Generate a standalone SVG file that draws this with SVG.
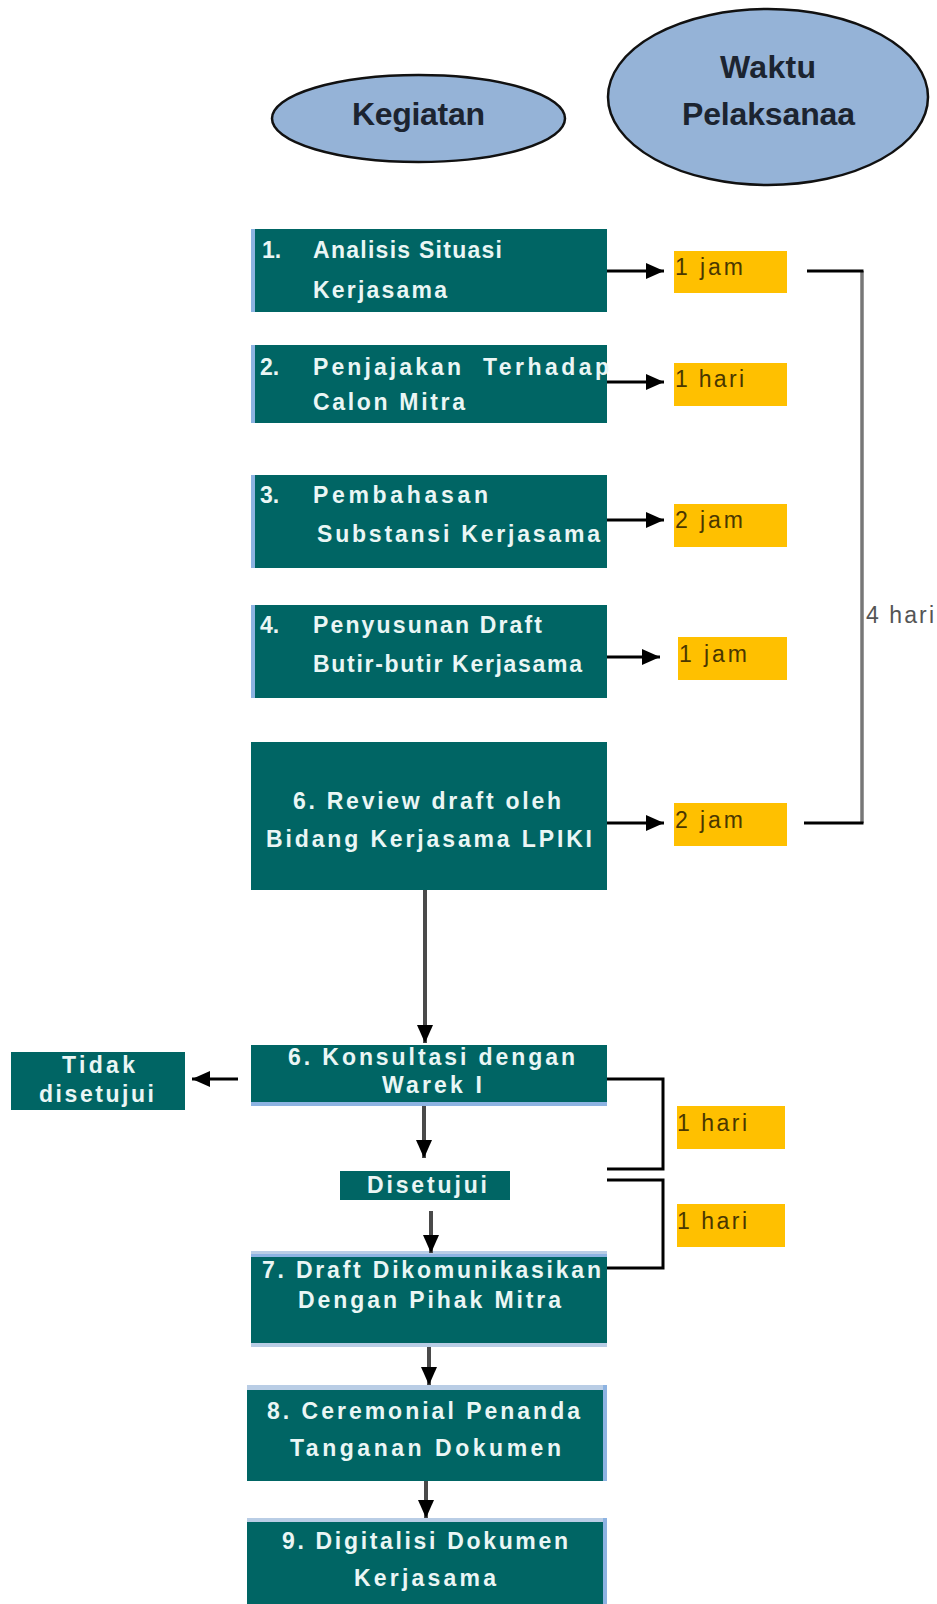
<svg xmlns="http://www.w3.org/2000/svg" width="937" height="1604" viewBox="0 0 937 1604">
  <defs>
    <marker id="ah" viewBox="0 0 18 16" refX="18" refY="8" markerWidth="18" markerHeight="16" markerUnits="userSpaceOnUse" orient="auto">
      <path d="M0,0 L18,8 L0,16 Z" fill="#000"/>
    </marker>
    <style>
      .box { fill: #006564; }
      .edge { fill: #8db3e2; }
      .edge2 { fill: #b9cde5; }
      .bt { font-family: "Liberation Sans", Arial, sans-serif; font-weight: bold; font-size: 23px; fill: #eaf6f5; }
      .et { font-family: "Liberation Sans", Arial, sans-serif; font-weight: bold; font-size: 32px; fill: #1c2430; }
      .ell { fill: #95b3d7; stroke: #111; stroke-width: 2.5; }
      .ybox { fill: #ffc000; }
      .yt { font-family: "Liberation Sans", Arial, sans-serif; font-size: 23px; fill: #4a3700; }
      .gt { font-family: "Liberation Sans", Arial, sans-serif; font-size: 23px; fill: #555; }
      .arr { stroke: #000; stroke-width: 3; fill: none; marker-end: url(#ah); }
      .varr { stroke: #4a4a4a; stroke-width: 4; fill: none; marker-end: url(#ah); }
      .brk { stroke: #000; stroke-width: 3; fill: none; }
      .brkg { stroke: #777; stroke-width: 3.5; fill: none; }
    </style>
  </defs>
  <rect width="937" height="1604" fill="#fff"/>

  <g id="kegiatan">
    <ellipse class="ell" cx="418.5" cy="118.5" rx="146.5" ry="43.5"/>
    <text class="et" x="352" y="125" textLength="133">Kegiatan</text>
  </g>
  <g id="waktu">
    <ellipse class="ell" cx="768" cy="97" rx="160" ry="88"/>
    <text class="et" x="720" y="78" textLength="96">Waktu</text>
    <text class="et" x="682" y="125" textLength="173">Pelaksanaa</text>
  </g>

  <g id="step1">
    <rect class="box" x="251" y="229" width="356" height="83"/>
    <rect class="edge" x="251" y="229" width="4" height="83"/>
    <text class="bt" x="262" y="258">1.</text>
    <text class="bt" x="313" y="258" textLength="189">Analisis Situasi</text>
    <text class="bt" x="313" y="298" textLength="134">Kerjasama</text>
  </g>
  <g id="step2">
    <rect class="box" x="251" y="345" width="356" height="78"/>
    <rect class="edge" x="251" y="345" width="4" height="78"/>
    <text class="bt" x="260" y="375">2.</text>
    <text class="bt" y="375"><tspan x="313" textLength="148">Penjajakan</tspan> <tspan x="483" textLength="126">Terhadap</tspan></text>
    <text class="bt" x="313" y="410" textLength="152">Calon Mitra</text>
  </g>
  <g id="step3">
    <rect class="box" x="251" y="475" width="356" height="93"/>
    <rect class="edge" x="251" y="475" width="4" height="93"/>
    <text class="bt" x="260" y="503">3.</text>
    <text class="bt" x="313" y="503" textLength="175">Pembahasan</text>
    <text class="bt" x="317" y="542" textLength="283">Substansi Kerjasama</text>
  </g>
  <g id="step4">
    <rect class="box" x="251" y="605" width="356" height="93"/>
    <rect class="edge" x="251" y="605" width="4" height="93"/>
    <text class="bt" x="260" y="633">4.</text>
    <text class="bt" x="313" y="633" textLength="229">Penyusunan Draft</text>
    <text class="bt" x="313" y="672" textLength="269">Butir-butir Kerjasama</text>
  </g>
  <g id="step5">
    <rect class="box" x="251" y="742" width="356" height="148"/>
    <text class="bt" x="293" y="809" textLength="268">6. Review draft oleh</text>
    <text class="bt" x="266" y="847" textLength="326">Bidang Kerjasama LPIKI</text>
  </g>
  <g id="step6">
    <rect class="box" x="251" y="1045" width="356" height="59"/>
    <rect class="edge" x="251" y="1102" width="356" height="4"/>
    <text class="bt" x="288" y="1065" textLength="287">6. Konsultasi dengan</text>
    <text class="bt" x="382" y="1093" textLength="100">Warek I</text>
  </g>
  <g id="tidak">
    <rect class="box" x="11" y="1052" width="174" height="58"/>
    <text class="bt" x="62" y="1073" textLength="73">Tidak</text>
    <text class="bt" x="39" y="1102" textLength="115">disetujui</text>
  </g>
  <g id="disetujui">
    <rect class="box" x="340" y="1171" width="170" height="29"/>
    <text class="bt" x="367" y="1193" textLength="120">Disetujui</text>
  </g>
  <g id="step7">
    <rect class="edge2" x="251" y="1251" width="356" height="3"/>
    <rect class="edge" x="251" y="1254" width="356" height="3"/>
    <rect class="box" x="251" y="1257" width="356" height="86"/>
    <rect class="edge2" x="251" y="1343" width="356" height="4"/>
    <text class="bt" x="262" y="1278" textLength="339">7. Draft Dikomunikasikan</text>
    <text class="bt" x="298" y="1308" textLength="263">Dengan Pihak Mitra</text>
  </g>
  <g id="step8">
    <rect class="edge2" x="247" y="1385" width="360" height="5"/>
    <rect class="box" x="247" y="1390" width="356" height="91"/>
    <rect class="edge" x="603" y="1385" width="4" height="96"/>
    <text class="bt" x="267" y="1419" textLength="313">8. Ceremonial Penanda</text>
    <text class="bt" x="290" y="1456" textLength="271">Tanganan Dokumen</text>
  </g>
  <g id="step9">
    <rect class="edge2" x="247" y="1518" width="360" height="4"/>
    <rect class="box" x="247" y="1522" width="356" height="82"/>
    <rect class="edge" x="603" y="1518" width="4" height="86"/>
    <text class="bt" x="282" y="1549" textLength="286">9. Digitalisi Dokumen</text>
    <text class="bt" x="354" y="1586" textLength="142">Kerjasama</text>
  </g>

  <g id="times">
    <rect class="ybox" x="674" y="251" width="113" height="42"/>
    <text class="yt" x="675" y="275" textLength="68">1 jam</text>
    <rect class="ybox" x="674" y="363" width="113" height="43"/>
    <text class="yt" x="675" y="387" textLength="69">1 hari</text>
    <rect class="ybox" x="674" y="504" width="113" height="43"/>
    <text class="yt" x="675" y="528" textLength="68">2 jam</text>
    <rect class="ybox" x="678" y="637" width="109" height="43"/>
    <text class="yt" x="679" y="662" textLength="68">1 jam</text>
    <rect class="ybox" x="674" y="803" width="113" height="43"/>
    <text class="yt" x="675" y="828" textLength="68">2 jam</text>
    <rect class="ybox" x="677" y="1106" width="108" height="43"/>
    <text class="yt" x="677" y="1131" textLength="70">1 hari</text>
    <rect class="ybox" x="677" y="1204" width="108" height="43"/>
    <text class="yt" x="677" y="1229" textLength="70">1 hari</text>
    <text class="gt" x="866" y="623" textLength="68">4 hari</text>
  </g>

  <g id="connectors">
    <line class="arr" x1="607" y1="271" x2="664" y2="271"/>
    <line class="arr" x1="607" y1="382" x2="664" y2="382"/>
    <line class="arr" x1="607" y1="520" x2="664" y2="520"/>
    <line class="arr" x1="607" y1="657" x2="660" y2="657"/>
    <line class="arr" x1="607" y1="823" x2="664" y2="823"/>
    <line class="brkg" x1="862" y1="271" x2="862" y2="823"/>
    <polyline class="brk" points="807,271 863.5,271"/>
    <polyline class="brk" points="804,823 863.5,823"/>
    <line class="varr" x1="425" y1="890" x2="425" y2="1043"/>
    <line class="arr" x1="238" y1="1079" x2="192" y2="1079"/>
    <line class="varr" x1="424" y1="1106" x2="424" y2="1158"/>
    <line class="varr" x1="431" y1="1211" x2="431" y2="1253"/>
    <line class="varr" x1="429" y1="1347" x2="429" y2="1385"/>
    <line class="varr" x1="426" y1="1481" x2="426" y2="1518"/>
    <polyline class="brk" points="607,1079 663,1079 663,1169 607,1169"/>
    <polyline class="brk" points="607,1180 663,1180 663,1268 607,1268"/>
  </g>
</svg>
